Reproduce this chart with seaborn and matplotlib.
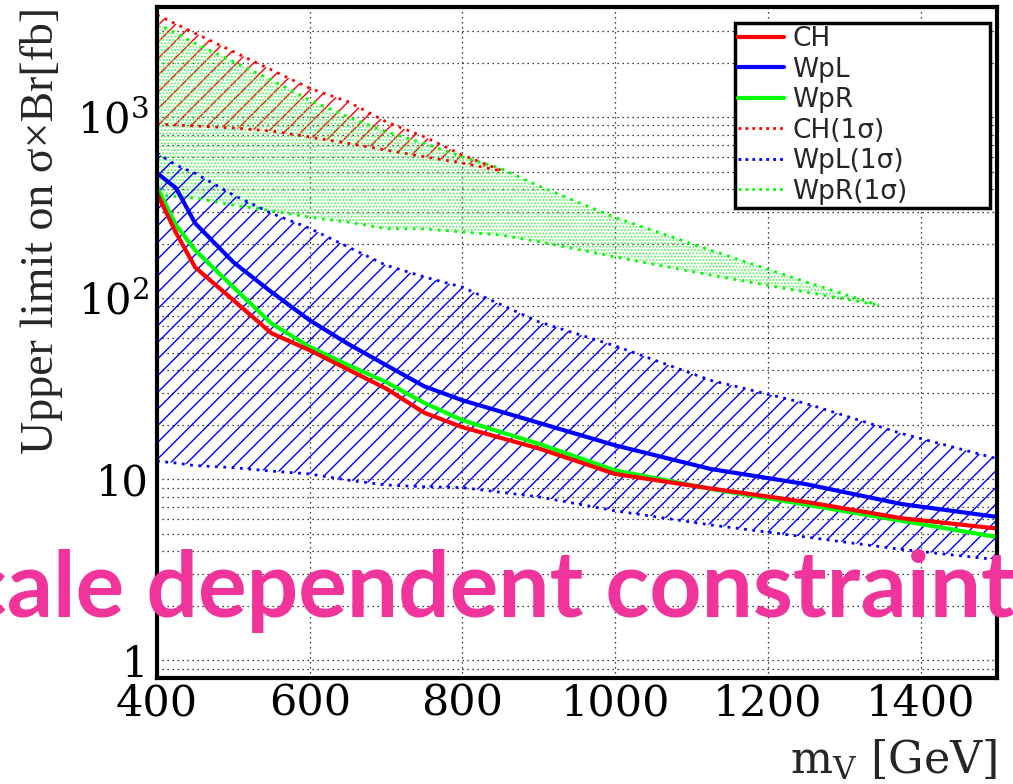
import numpy as np
import pandas as pd
import matplotlib
matplotlib.use('Agg')
import matplotlib.pyplot as plt
import seaborn as sns
from matplotlib.lines import Line2D
from matplotlib.ticker import FixedLocator, FixedFormatter, MultipleLocator, LogLocator, NullFormatter

# expected upper limits (fb) vs vector mass (GeV)
masses = [400, 425, 450, 500, 550, 600, 650, 700, 750, 800, 900, 1000, 1125, 1250, 1375, 1500]
limit_ch = [380, 229, 148, 97.5, 64, 51.6, 40.4, 31.7, 23.3, 19.4, 14.8, 10.7, 8.9, 7.5, 6.1, 5.35]
limit_wpl = [491, 405, 259, 158, 108, 75.5, 56, 42.7, 32.6, 27.3, 20.5, 15.4, 11.4, 9.4, 7.3, 6.2]
limit_wpr = [410, 253, 184, 115, 72.4, 53.8, 42.8, 34.4, 26.4, 21.2, 15.7, 11.2, 8.85, 7.25, 5.9, 4.8]

# 1 sigma bands
wpl_up = [632, 543, 489, 371, 294, 243, 192, 152, 131, 115, 74, 54.5, 35.2, 26.2, 17.9, 13.0]
wpl_dn = [12.6, 12.3, 11.9, 11.6, 11.1, 10.7, 9.9, 9.3, 9.1, 9.0, 8.0, 6.7, 5.6, 4.8, 4.1, 3.6]

ch_band_m = [400, 450, 500, 550, 600, 650, 700, 750, 800, 850]
ch_up = [3665, 2900, 2296, 1820, 1443, 1216, 942, 778, 617, 510]
ch_dn = [915, 892, 870, 837, 775, 716, 657, 604, 557, 505]

wpr_band_m = [400, 450, 500, 550, 600, 650, 700, 750, 800, 850, 900, 1000, 1125, 1250, 1345]
wpr_up = [3296, 2553, 2023, 1600, 1241, 1004, 830, 716, 604, 521, 416, 279, 184, 123, 91.5]
wpr_dn = [371, 357, 326, 303, 280, 263, 242, 241, 232, 223, 205, 169, 134, 108, 91.5]

models = ['CH', 'WpL', 'WpR']
colors = {'CH': '#ff0000', 'WpL': '#0000ff', 'WpR': '#00ff00'}
band_labels = ['CH(1σ)', 'WpL(1σ)', 'WpR(1σ)']

x_ticks = [400, 600, 800, 1000, 1200, 1400]
x_ticklabels = ['400', '600', '800', '1000', '1200', '1400']
y_ticks = [1, 10, 100, 1000]
y_ticklabels = ['1', '10', r'$10^{2}$', r'$10^{3}$']

sns.set_theme(style='white')
plt.rcParams['font.family'] = ['DejaVu Serif']
plt.rcParams['mathtext.fontset'] = 'dejavuserif'
plt.rcParams['hatch.linewidth'] = 1.0

fig = plt.figure(figsize=(10.13, 7.84), dpi=100)
ax = fig.add_axes([157/1013, 1-678/784, 840/1013, 671/784])

dot = (0, (1, 2))
# bands: red hatch, green stipple, blue hatch
ax.fill_between(ch_band_m, ch_dn, ch_up, facecolor='none', edgecolor=colors['CH'], hatch='//', lw=0)
ax.plot(ch_band_m, ch_up, ls=dot, color=colors['CH'], lw=2)
ax.plot(ch_band_m, ch_dn, ls=dot, color=colors['CH'], lw=2)

ax.fill_between(wpr_band_m, wpr_dn, wpr_up, facecolor='none', edgecolor='#66ee66', hatch='.....', lw=0)
ax.plot(wpr_band_m, wpr_up, ls=dot, color=colors['WpR'], lw=2)
ax.plot(wpr_band_m, wpr_dn, ls=dot, color=colors['WpR'], lw=2)

ax.fill_between(masses, wpl_dn, wpl_up, facecolor='none', edgecolor=colors['WpL'], hatch='//', lw=0)
ax.plot(masses, wpl_up, ls=dot, color=colors['WpL'], lw=2)
ax.plot(masses, wpl_dn, ls=dot, color=colors['WpL'], lw=2)

n = len(masses)
curves = pd.DataFrame({
    'mass': masses * 3,
    'limit': limit_ch + limit_wpl + limit_wpr,
    'model': ['CH'] * n + ['WpL'] * n + ['WpR'] * n,
})
sns.lineplot(data=curves, x='mass', y='limit', hue='model', hue_order=['WpL', 'WpR', 'CH'],
             palette=colors, lw=3, estimator=None, legend=False, ax=ax)

ax.set_yscale('log')
ax.set_xlim(400, 1500)
ax.set_ylim(0.8, 4050)
ax.set_xlabel('')
ax.set_ylabel('')

ax.xaxis.set_major_locator(FixedLocator(x_ticks))
ax.xaxis.set_major_formatter(FixedFormatter(x_ticklabels))
ax.xaxis.set_minor_locator(MultipleLocator(50))
ax.yaxis.set_major_locator(FixedLocator(y_ticks))
ax.yaxis.set_major_formatter(FixedFormatter(y_ticklabels))
ax.yaxis.set_minor_locator(LogLocator(base=10, subs=np.arange(2, 10)))
ax.yaxis.set_minor_formatter(NullFormatter())

ax.tick_params(axis='both', which='major', direction='in', length=15, width=2.5, colors='black')
ax.tick_params(axis='x', which='major', labelsize=31, pad=3)
ax.tick_params(axis='y', which='major', labelsize=30, pad=6)
ax.tick_params(axis='both', which='minor', direction='in', length=7, width=2, colors='black')

ax.grid(True, which='major', axis='x', color='black', ls=(0, (1, 3)), lw=0.9)
ax.grid(True, which='both', axis='y', color='black', ls=(0, (1, 3)), lw=0.9)
for s in ax.spines.values():
    s.set_linewidth(3)
    s.set_color('black')

handles = [Line2D([], [], color=colors[m], lw=3) for m in models]
handles += [Line2D([], [], color=colors[m], lw=2, ls=(0, (1, 1.5))) for m in models]
leg = ax.legend(handles, models + band_labels, loc='upper left', mode='expand',
                bbox_to_anchor=(735/1013, 1-218/784, 255/1013, 195/784), bbox_transform=fig.transFigure,
                prop={'family': 'DejaVu Sans', 'size': 19}, frameon=True, fancybox=False,
                framealpha=1, edgecolor='black', borderpad=0.12, labelspacing=0.17,
                handlelength=1.75, handletextpad=0.3, borderaxespad=0)
leg.get_frame().set_linewidth(2.5)

fig.text(42/1013, 1-7/784, 'Upper limit on σ×Br[fb]', rotation=90, ha='center', va='top',
         family='Liberation Serif', fontsize=33)
fig.text(997/1013, 1-773/784, r'm$_{\mathregular{V}}$ [GeV]', ha='right', va='baseline', fontsize=32)

fig.text(484/1013, 1-617/784, 'Scale dependent constraints', ha='center', va='baseline',
         fontsize=65.5, fontweight='bold', family='Lato', color='#F0349B', zorder=20)

fig.savefig('out.png', dpi=100)
